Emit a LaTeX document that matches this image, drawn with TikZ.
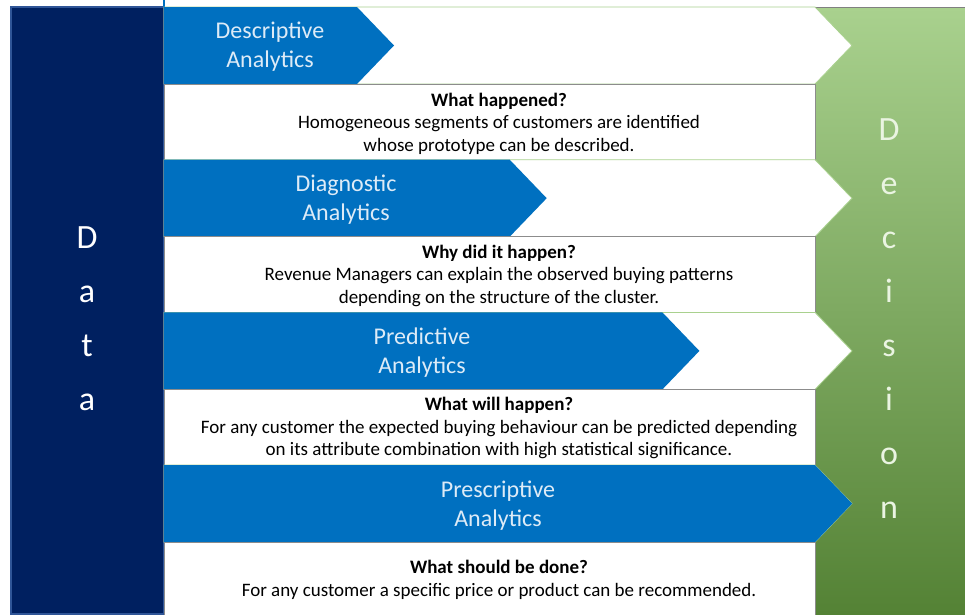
\documentclass[tikz,border=0pt]{standalone}
\usepackage{fontspec}
\setmainfont{Carlito}

\definecolor{datanavy}{HTML}{002060}
\definecolor{databorder}{HTML}{2F5597}
\definecolor{chevblue}{HTML}{0070C0}
\definecolor{labelblue}{HTML}{DDEBF7}
\definecolor{declight}{HTML}{A9D18E}
\definecolor{decdark}{HTML}{548235}
\definecolor{decletter}{HTML}{EAF4E2}
\definecolor{boxline}{HTML}{8C8C8C}

\begin{document}
\begin{tikzpicture}[x=1pt,y=-1pt,
	chevron/.style={fill=chevblue},
	arrowbg/.style={fill=white,draw=declight,line width=0.8pt},
	answerbox/.style={fill=white,draw=boxline,line width=0.8pt},
	stagelabel/.style={text=labelblue,align=center,font=\fontsize{24}{29}\selectfont},
	answertext/.style={align=center,font=\fontsize{19}{22.5}\selectfont},
	barletter/.style={anchor=base,font=\fontsize{34}{34}\selectfont}]
				\useasboundingbox (0,0) rectangle (965,614);
				\fill[white] (0,0) rectangle (965,614);
				
				% Decision bar
				\shade[top color=declight,bottom color=decdark] (815,7) rectangle (965,614);
				\draw[gray,line width=0.6pt] (815,7) -- (965,7);
				
				% Data bar
				\filldraw[fill=datanavy,draw=databorder,line width=1.2pt] (11,7) rectangle (164,614);
				\draw[chevblue,line width=2pt] (164,0) -- (164,7);
				
				% Stages: white arrow, blue chevron, answer box
				\foreach \i in {0,1,2,3}{
					\pgfmathsetmacro{\rowtop}{7+152.7*\i}
					\pgfmathsetmacro{\rowmid}{\rowtop+38.5}
					\pgfmathsetmacro{\rowbot}{\rowtop+77}
					\pgfmathsetmacro{\blueend}{357+152.7*\i}
					\draw[arrowbg] (164,\rowtop) -- (815,\rowtop) -- (852,\rowmid) -- (815,\rowbot) -- (164,\rowbot) -- cycle;
					\fill[chevron] (164,\rowtop) -- (\blueend,\rowtop) -- (\blueend+37,\rowmid) -- (\blueend,\rowbot) -- (164,\rowbot) -- cycle;
					\draw[answerbox] (164,\rowbot) rectangle (815,\rowbot+76);
				}
				
				% Stage names
				\node[stagelabel] (descriptive) at (270,46.5) {Descriptive\\Analytics};
				\node[stagelabel] (diagnostic) at (346,200) {Diagnostic\\Analytics};
				\node[stagelabel] (predictive) at (422,352.5) {Predictive\\Analytics};
				\node[stagelabel] (prescriptive) at (498,505.5) {Prescriptive\\Analytics};
				
				% Questions and answers
				\node[answertext] (happened) at (499,123.5) {\textbf{What happened?}\\Homogeneous segments of customers are identified\\whose prototype can be described.};
				\node[answertext] (why) at (499,275.5) {\textbf{Why did it happen?}\\Revenue Managers can explain the observed buying patterns\\depending on the structure of the cluster.};
				\node[answertext] (will) at (499,428) {\textbf{What will happen?}\\For any customer the expected buying behaviour can be predicted depending\\on its attribute combination with high statistical significance.};
				\node[answertext] (should) at (499,580) {\textbf{What should be done?}\\For any customer a specific price or product can be recommended.};
				
				% Vertical words
				\foreach \letter [count=\k from 0] in {D,a,t,a}{
					\node[barletter,text=white] (data\k) at (87,248+54*\k) {\letter};
				}
				\foreach \letter [count=\k from 0] in {D,e,c,i,s,i,o,n}{
					\node[barletter,text=decletter] (decision\k) at (889,140+54*\k) {\letter};
				}
\end{tikzpicture}
\end{document}
